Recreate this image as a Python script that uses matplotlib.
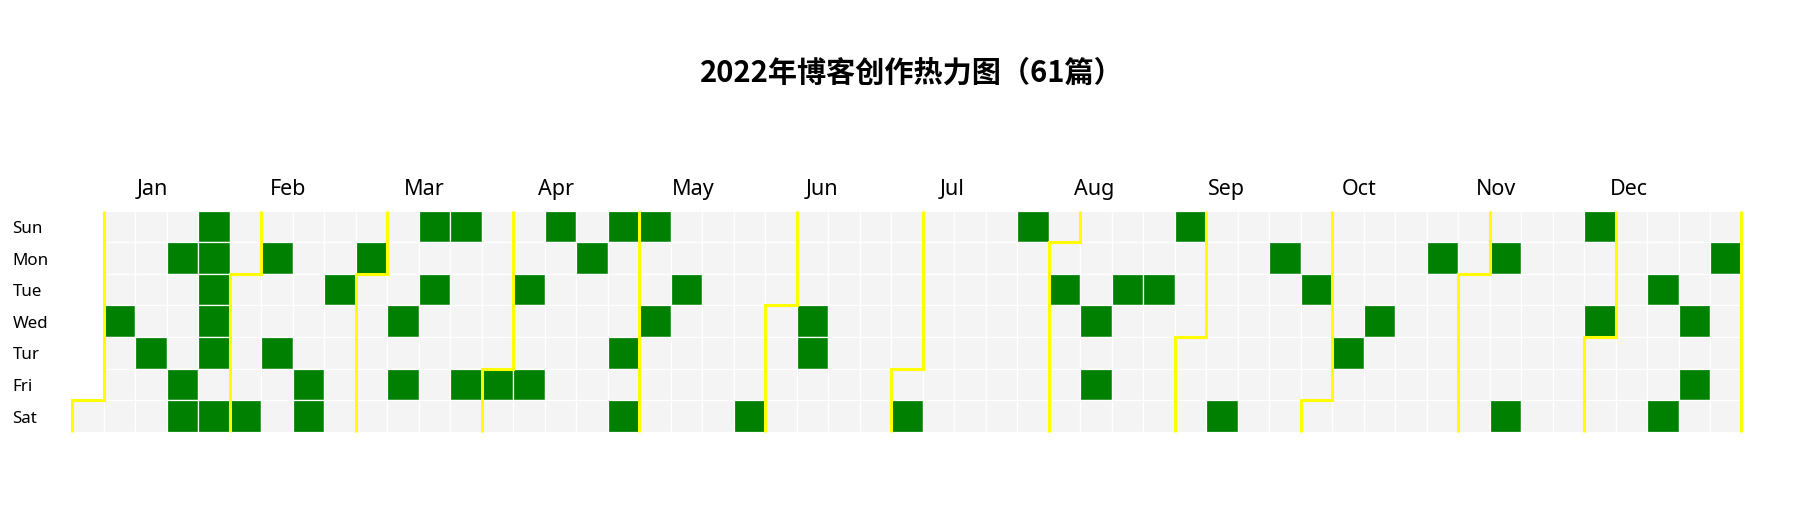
import datetime as dt
import matplotlib
matplotlib.use("Agg")
import matplotlib.pyplot as plt
from matplotlib.patches import Rectangle
import matplotlib.transforms as mtransforms

# ---- data ----
year = 2022
title = "2022年博客创作热力图（61篇）"
post_dates = [
    "2022-01-05", "2022-01-13", "2022-01-17", "2022-01-21", "2022-01-22", "2022-01-23",
    "2022-01-24", "2022-01-25", "2022-01-26", "2022-01-27", "2022-01-29",
    "2022-02-05", "2022-02-07", "2022-02-10", "2022-02-18", "2022-02-19", "2022-02-22", "2022-02-28",
    "2022-03-09", "2022-03-11", "2022-03-13", "2022-03-15", "2022-03-20", "2022-03-25",
    "2022-04-01", "2022-04-05", "2022-04-08", "2022-04-10", "2022-04-18", "2022-04-24",
    "2022-04-28", "2022-04-30",
    "2022-05-01", "2022-05-04", "2022-05-10", "2022-05-28",
    "2022-06-08", "2022-06-09",
    "2022-07-02", "2022-07-24",
    "2022-08-02", "2022-08-10", "2022-08-12", "2022-08-16", "2022-08-23", "2022-08-28",
    "2022-09-10", "2022-09-19", "2022-09-27",
    "2022-10-06", "2022-10-12", "2022-10-24",
    "2022-11-07", "2022-11-12", "2022-11-27", "2022-11-30",
    "2022-12-13", "2022-12-17", "2022-12-21", "2022-12-23", "2022-12-26",
]
post_counts = [1] * len(post_dates)
day_labels = ["Sun", "Mon", "Tue", "Wed", "Tur", "Fri", "Sat"]
month_labels = ["Jan", "Feb", "Mar", "Apr", "May", "Jun",
                "Jul", "Aug", "Sep", "Oct", "Nov", "Dec"]

# ---- styles ----
W, H = 1806, 512
empty_color = "#f4f4f4"
post_color = "#008000"
split_color = "#ffff00"

plt.rcParams["font.family"] = ["Noto Sans", "DejaVu Sans"]

fig = plt.figure(figsize=(W / 100, H / 100), dpi=100)
gx0, gx1, gy0, gy1 = 72.5, 1741.5, 210.7, 431.7
ax = fig.add_axes([gx0 / W, 1 - gy1 / H, (gx1 - gx0) / W, (gy1 - gy0) / H])

start = dt.date(year, 1, 1)
end = dt.date(year, 12, 31)
first_dow = (start.weekday() + 1) % 7  # Sunday = 0


def cell(d):
    k = (d - start).days + first_dow
    return k // 7, k % 7


n_cols = cell(end)[0] + 1
ax.set_xlim(0, n_cols)
ax.set_ylim(7, 0)
ax.axis("off")

values = {dt.date.fromisoformat(s): v for s, v in zip(post_dates, post_counts)}

d = start
while d <= end:
    c, r = cell(d)
    color = post_color if values.get(d, 0) > 0 else empty_color
    ax.add_patch(Rectangle((c, r), 1, 1, facecolor=color, edgecolor="white",
                           linewidth=0.9, zorder=1))
    d += dt.timedelta(days=1)

# month split lines
firsts = [dt.date(year, m, 1) for m in range(1, 13)] + [dt.date(year + 1, 1, 1)]
for fd in firsts:
    k = (fd - start).days + first_dow
    c, r = k // 7, k % 7
    if r == 0:
        xs, ys = [c, c], [0, 7]
    else:
        xs, ys = [c + 1, c + 1, c, c], [0, r, r, 7]
    ax.plot(xs, ys, color=split_color, linewidth=2.2, solid_joinstyle="miter",
            solid_capstyle="butt", zorder=3, clip_on=False)

# day labels
trans = mtransforms.blended_transform_factory(fig.transFigure, ax.transData)
for i, lab in enumerate(day_labels):
    ax.text(12.5 / W, i + 0.71, lab, transform=trans, ha="left", va="baseline",
            fontsize=12.2, color="#000000")

# month labels (evenly spaced)
for i, lab in enumerate(month_labels):
    ax.text(2.03 + 4.253 * i, -0.5, lab, ha="left", va="baseline",
            fontsize=15.5, color="#000000", clip_on=False)

fig.text(912 / W, 1 - 73 / H, title, ha="center", va="center", fontsize=21,
         fontweight="bold", family=["Noto Sans CJK SC", "DejaVu Sans"], color="#000000")

fig.savefig("out.png", dpi=100, facecolor="white")
